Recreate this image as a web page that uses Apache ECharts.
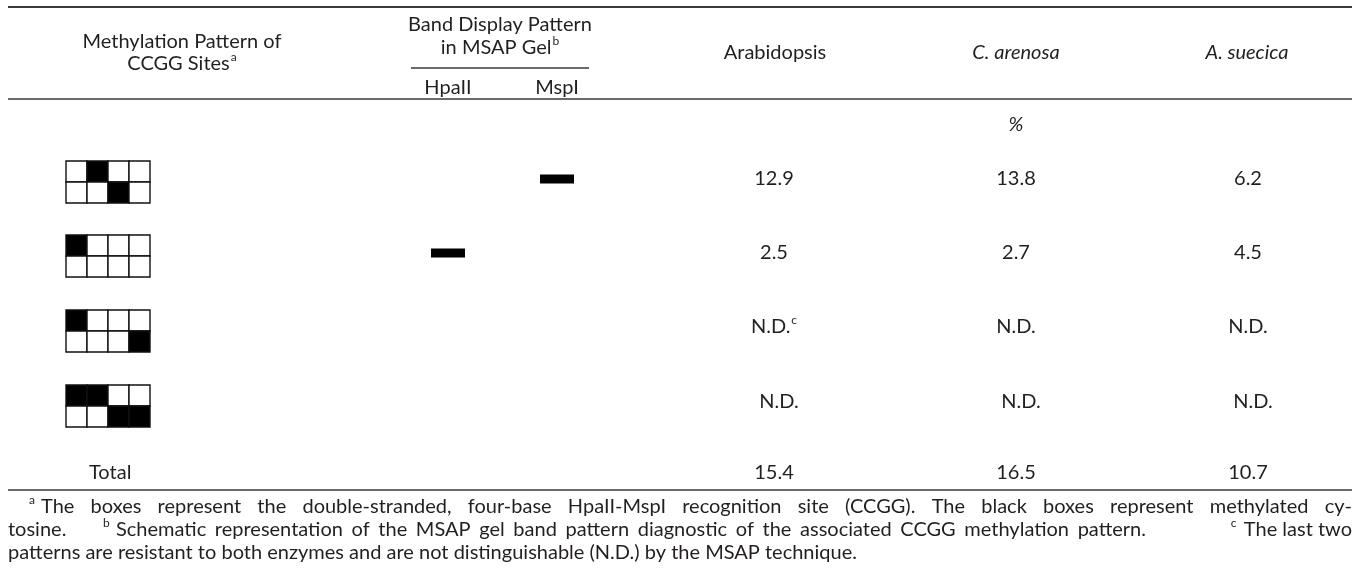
<!DOCTYPE html>
<html><head><meta charset="utf-8">
<script src="https://cdn.jsdelivr.net/npm/echarts@6/dist/echarts.min.js"></script>
<style>html,body{margin:0;padding:0;background:#fff}#c{width:1360px;height:579px}</style>
</head><body><div id="c"></div><script>
// ---------------- DATA ----------------
const speciesNames = ['Arabidopsis', 'C. arenosa', 'A. suecica'];
const speciesItalic = [false, true, true];
// methylation pattern per row: [top strand 4 cells, bottom strand 4 cells], 1 = methylated (black)
const methylPatterns = [
  [[0,1,0,0],[0,0,1,0]],
  [[1,0,0,0],[0,0,0,0]],
  [[1,0,0,0],[0,0,0,1]],
  [[1,1,0,0],[0,0,1,1]]
];
const hpaIIBand = [0, 1, 0, 0];
const mspIBand  = [1, 0, 0, 0];
const arabidopsisValues = ['12.9', '2.5', 'N.D.', 'N.D.'];
const arabidopsisMarks  = ['', '', 'c', ''];
const cArenosaValues    = ['13.8', '2.7', 'N.D.', 'N.D.'];
const aSuecicaValues    = ['6.2', '4.5', 'N.D.', 'N.D.'];
const totalValues       = ['15.4', '16.5', '10.7'];
const footLine1 = 'The boxes represent the double-stranded, four-base HpaII-MspI recognition site (CCGG). The black boxes represent methylated cy-';
const footLine2a = 'tosine.';
const footLine2b = 'Schematic representation of the MSAP gel band pattern diagnostic of the associated CCGG methylation pattern.';
const footLine2c = 'The last two';
const footLine3 = 'patterns are resistant to both enzymes and are not distinguishable (N.D.) by the MSAP technique.';

// ---------------- LAYOUT / STYLE ----------------
const FONT = 'Lato';
const FS = 20;
const SUPFS = 12;
const SX = 1;
const TXT = '#231f20';
const RULE = '#3a3a3a';
const L = {
  ruleX0: 8, ruleX1: 1352,
  topRuleY: 7, headRuleY: 99, bottomRuleY: 490,
  subRule: [411, 589, 68],
  colX: {pattern: 182, hpa: 448, msp: 557},
  headY: 53,
  speciesHeadX: [775, 1016, 1247],
  valueX: [774, 1016, 1248],
  pctY: 125,
  rowY: [179, 253, 327, 402],
  rowDX: [0, 0, 0, 5],
  totalX: 89, totalY: 473,
  box: {x: 66, cell: 21, tops: [161, 235, 310, 385]},
  band: {w: 34, h: 9},
  foot: {x0: 8, x1: 1352, y: [507, 530, 553]}
};

const mctx = document.createElement('canvas').getContext('2d');
function fontStr(fs, italic) { return (italic ? 'italic ' : '') + fs + 'px ' + FONT; }
function measure(t, fs, italic) { mctx.font = fontStr(fs || FS, italic); return mctx.measureText(t).width * SX; }

function txt(x, y, text, o) {
  o = o || {};
  const a = o.align || 'center';
  return {
    type: 'text', x: x, y: y, scaleX: SX, silent: true, z: 10,
    style: {
      text: text, fill: TXT, font: fontStr(o.fs || FS, o.italic),
      align: a, verticalAlign: 'middle', textAlign: a, textVerticalAlign: 'middle'
    }
  };
}
// text with a trailing superscript, centered at x
function txtSup(x, y, main, sup, o) {
  o = o || {};
  const wm = measure(main, o.fs, o.italic), ws = measure(sup, SUPFS, false);
  const start = x - (wm + ws + 1) / 2;
  return [txt(start, y, main, {align: 'left', fs: o.fs, italic: o.italic}),
          txt(start + wm + 1, y - 7, sup, {align: 'left', fs: SUPFS})];
}
function hline(x0, x1, y, w) {
  return {type: 'line', silent: true, shape: {x1: x0, y1: y, x2: x1, y2: y}, style: {stroke: RULE, lineWidth: w || 1.5}};
}
function justified(words, x0, x1, y) {
  const ws = words.map(w => measure(w));
  const sum = ws.reduce((a, b) => a + b, 0);
  const gap = (x1 - x0 - sum) / (words.length - 1);
  const out = []; let x = x0;
  words.forEach((w, i) => { out.push(txt(x, y, w, {align: 'left'})); x += ws[i] + gap; });
  return out;
}
function sup(x, y, t) { return txt(x, y - 7, t, {align: 'left', fs: SUPFS}); }

// ---------------- GRAPHIC (header, rules, footnotes) ----------------
const g = [];
g.push(hline(L.ruleX0, L.ruleX1, L.topRuleY, 2));
g.push(hline(L.ruleX0, L.ruleX1, L.headRuleY, 1.6));
g.push(hline(L.ruleX0, L.ruleX1, L.bottomRuleY, 1.6));
g.push(hline(L.subRule[0], L.subRule[1], L.subRule[2], 1.3));
g.push(txt(L.colX.pattern, L.headY - 11, 'Methylation Pattern of'));
g.push(...txtSup(L.colX.pattern, L.headY + 11, 'CCGG Sites', 'a'));
const bandCx = (L.subRule[0] + L.subRule[1]) / 2;
g.push(txt(bandCx, 25, 'Band Display Pattern'));
g.push(...txtSup(bandCx, 48, 'in MSAP Gel', 'b'));
g.push(txt(L.colX.hpa, 88, 'HpaII'));
g.push(txt(L.colX.msp, 88, 'MspI'));
speciesNames.forEach((s, i) => g.push(txt(L.speciesHeadX[i], L.headY, s, {italic: speciesItalic[i]})));
g.push(txt(L.valueX[1], L.pctY, '%', {italic: true}));
g.push(txt(L.totalX, L.totalY, 'Total', {align: 'left'}));
// footnotes
const fy = L.foot.y;
g.push(sup(29, fy[0], 'a'));
g.push(...justified(footLine1.split(' '), 41, L.foot.x1, fy[0]));
g.push(txt(L.foot.x0, fy[1], footLine2a, {align: 'left'}));
g.push(sup(103, fy[1], 'b'));
g.push(...justified(footLine2b.split(' '), 116, 1146, fy[1]));
const wc = measure(footLine2c);
g.push(sup(L.foot.x1 - wc - 13, fy[1], 'c'));
g.push(txt(L.foot.x1 - wc, fy[1], footLine2c, {align: 'left'}));
g.push(txt(L.foot.x0, fy[2], footLine3, {align: 'left'}));

// ---------------- SERIES ----------------
function renderRow(params, api) {
  const i = api.value(0);
  const ch = [];
  const b = L.box;
  for (let r = 0; r < 2; r++) for (let c = 0; c < 4; c++) {
    const p = api.coord([b.x + c * b.cell, b.tops[i] + r * b.cell]);
    const s = api.size([b.cell, b.cell]);
    ch.push({type: 'rect', shape: {x: p[0], y: p[1], width: s[0], height: s[1]},
      style: {fill: methylPatterns[i][r][c] ? '#000' : '#fff', stroke: '#111', lineWidth: 1.4}});
  }
  const bandAt = (cx) => {
    const p = api.coord([cx - L.band.w / 2, L.rowY[i] - L.band.h / 2]);
    const s = api.size([L.band.w, L.band.h]);
    ch.push({type: 'rect', shape: {x: p[0], y: p[1], width: s[0], height: s[1]}, style: {fill: '#000'}});
  };
  if (hpaIIBand[i]) bandAt(L.colX.hpa);
  if (mspIBand[i]) bandAt(L.colX.msp);
  const vals = [arabidopsisValues[i], cArenosaValues[i], aSuecicaValues[i]];
  vals.forEach((v, k) => {
    const p = api.coord([L.valueX[k] + L.rowDX[i], L.rowY[i]]);
    if (k === 0 && arabidopsisMarks[i]) ch.push(...txtSup(p[0], p[1], v, arabidopsisMarks[i]));
    else ch.push(txt(p[0], p[1], v));
  });
  return {type: 'group', children: ch};
}
function renderTotal(params, api) {
  const k = api.value(0);
  const p = api.coord([L.valueX[k], L.totalY]);
  return txt(p[0], p[1], totalValues[k]);
}

const chart = echarts.init(document.getElementById('c'), null, {renderer: 'canvas'});
chart.setOption({
  animation: false,
  backgroundColor: '#fff',
  grid: {left: 0, right: 0, top: 0, bottom: 0},
  xAxis: {type: 'value', min: 0, max: 1360, show: false},
  yAxis: {type: 'value', min: 0, max: 579, inverse: true, show: false},
  series: [
    {type: 'custom', name: 'rows', renderItem: renderRow, data: methylPatterns.map((_, i) => [i]), silent: true},
    {type: 'custom', name: 'totals', renderItem: renderTotal, data: totalValues.map((_, k) => [k]), silent: true}
  ],
  graphic: g
});
</script></body></html>
